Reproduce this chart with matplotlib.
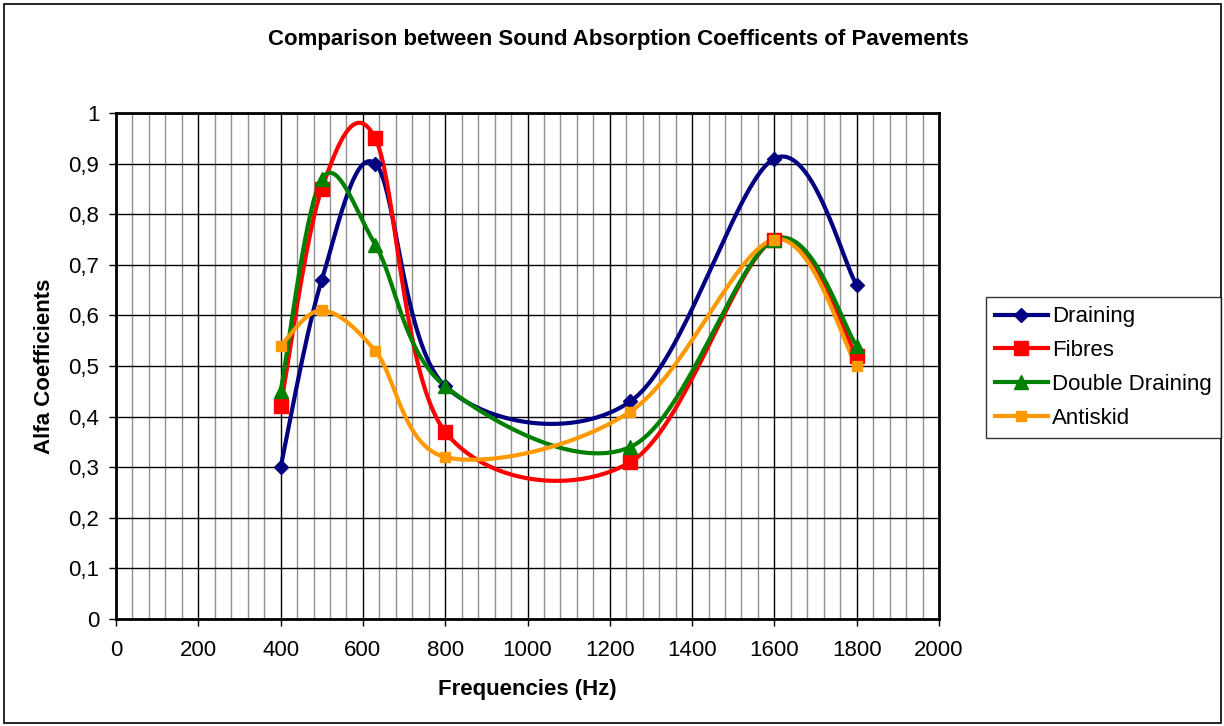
import numpy as np
import matplotlib
matplotlib.use("Agg")
import matplotlib.pyplot as plt
from matplotlib.patches import Rectangle

plt.rcParams['font.family'] = ['Liberation Sans', 'DejaVu Sans']

freqs = [400, 500, 630, 800, 1250, 1600, 1800]
draining = [0.30, 0.67, 0.90, 0.46, 0.43, 0.91, 0.66]
fibres = [0.42, 0.85, 0.95, 0.37, 0.31, 0.75, 0.52]
double_draining = [0.45, 0.87, 0.74, 0.46, 0.34, 0.75, 0.54]
antiskid = [0.54, 0.61, 0.53, 0.32, 0.41, 0.75, 0.50]

series_names = ["Draining", "Fibres", "Double Draining", "Antiskid"]
series_values = [draining, fibres, double_draining, antiskid]
colors = ["#000080", "#FF0000", "#008000", "#FF9900"]
markers = ["D", "s", "^", "s"]
msizes = [7.5, 10, 10, 7]

ytick_vals = [0, 0.1, 0.2, 0.3, 0.4, 0.5, 0.6, 0.7, 0.8, 0.9, 1.0]
ytick_labels = ["0", "0,1", "0,2", "0,3", "0,4", "0,5", "0,6", "0,7", "0,8", "0,9", "1"]
xtick_vals = [0, 200, 400, 600, 800, 1000, 1200, 1400, 1600, 1800, 2000]

FS = 16


def excel_smooth(x, y, n=40):
    # Catmull-Rom style Bezier smoothing (as in spreadsheet smoothed lines)
    P = np.column_stack([x, y]).astype(float)
    pts = []
    m = len(P)
    for i in range(m - 1):
        p0 = P[i - 1] if i > 0 else P[i]
        p1 = P[i]
        p2 = P[i + 1]
        p3 = P[i + 2] if i + 2 < m else P[i + 1]
        c1 = p1 + (p2 - p0) / 6.0
        c2 = p2 - (p3 - p1) / 6.0
        t = np.linspace(0, 1, n)[:, None]
        seg = ((1 - t) ** 3) * p1 + 3 * ((1 - t) ** 2) * t * c1 + 3 * (1 - t) * t ** 2 * c2 + t ** 3 * p2
        if i > 0:
            seg = seg[1:]
        pts.append(seg)
    pts = np.vstack(pts)
    return pts[:, 0], pts[:, 1]


fig = plt.figure(figsize=(12.24, 7.26), dpi=100)
ax = fig.add_axes([116 / 1224, 107 / 726, 823 / 1224, 506 / 726])

ax.set_xlim(0, 2000)
ax.set_ylim(0, 1)
ax.set_xticks(xtick_vals)
ax.set_xticks(np.arange(0, 2001, 40), minor=True)
ax.set_yticks(ytick_vals)
ax.set_yticklabels(ytick_labels)

ax.grid(which='minor', axis='x', color='#909090', linewidth=1.0)
ax.grid(which='major', axis='x', color='black', linewidth=1.0)
ax.grid(which='major', axis='y', color='black', linewidth=1.0)
ax.set_axisbelow(True)
ax.tick_params(which='minor', length=0)
ax.tick_params(which='major', direction='out', length=5, width=1, labelsize=FS)
ax.tick_params(axis='x', pad=10)
ax.tick_params(axis='y', pad=7)
for s in ax.spines.values():
    s.set_linewidth(2)
    s.set_color('black')

handles = []
for name, vals, c, mk, ms in zip(series_names, series_values, colors, markers, msizes):
    sx, sy = excel_smooth(freqs, vals)
    ax.plot(sx, sy, color=c, linewidth=3.0, solid_capstyle='round', zorder=3)
    ax.plot(freqs, vals, linestyle='none', marker=mk, color=c, markersize=ms, zorder=4)
    h, = ax.plot([], [], color=c, linewidth=3.0, marker=mk, markersize=ms, label=name)
    handles.append(h)

ax.set_xlabel("Frequencies (Hz)", fontsize=FS, fontweight='bold')
ax.xaxis.label.set_va('center')
ax.xaxis.set_label_coords(0.5, (619 - 689) / 506)
ax.set_ylabel("Alfa Coefficients", fontsize=FS, fontweight='bold')
ax.yaxis.label.set_va('center')
ax.yaxis.label.set_ha('center')
ax.yaxis.set_label_coords((45 - 116) / 823, 0.5)

fig.text(618 / 1224, 1 - 40 / 726, "Comparison between Sound Absorption Coefficents of Pavements",
         ha='center', va='center', fontsize=FS, fontweight='bold')

leg = fig.legend(handles=handles, loc='upper left', bbox_to_anchor=(986 / 1224, 1 - 297 / 726),
                 fontsize=FS, frameon=True, fancybox=False, edgecolor='black',
                 handlelength=2.35, handletextpad=0.2, borderpad=0.42, labelspacing=0.58,
                 borderaxespad=0)
leg.get_frame().set_linewidth(1.0)

fig.patches.append(Rectangle((4 / 1224, 3 / 726), 1217 / 1224, 719 / 726, transform=fig.transFigure,
                             fill=False, edgecolor='black', linewidth=1.2))

fig.savefig("out.png", dpi=100)
